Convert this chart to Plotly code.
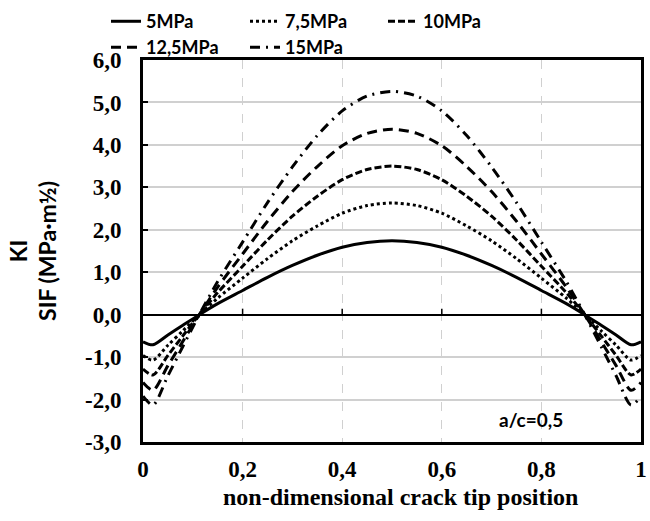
import plotly.graph_objects as go

# Non-dimensional crack tip position along the crack front
position = [0.0, 0.02, 0.05, 0.08, 0.113, 0.15, 0.2, 0.25, 0.3, 0.35, 0.4, 0.45, 0.5,
            0.55, 0.6, 0.65, 0.7, 0.75, 0.8, 0.85, 0.887, 0.92, 0.95, 0.98, 1.0]

# Mode I stress intensity factor KI (MPa·m½) for each applied pressure
k_5 = [-0.64, -0.71, -0.48, -0.25, 0.00, 0.26, 0.57, 0.88, 1.16, 1.40, 1.59, 1.70, 1.74,
       1.70, 1.59, 1.40, 1.16, 0.88, 0.57, 0.26, 0.00, -0.25, -0.48, -0.71, -0.64]
k_7_5 = [-0.96, -1.07, -0.72, -0.38, 0.00, 0.39, 0.86, 1.32, 1.74, 2.09, 2.39, 2.57, 2.63,
         2.57, 2.39, 2.09, 1.74, 1.32, 0.86, 0.39, 0.00, -0.38, -0.72, -1.07, -0.96]
k_10 = [-1.28, -1.42, -0.96, -0.50, 0.00, 0.52, 1.14, 1.76, 2.32, 2.79, 3.18, 3.42, 3.50,
        3.42, 3.18, 2.79, 2.32, 1.76, 1.14, 0.52, 0.00, -0.50, -0.96, -1.42, -1.28]
k_12_5 = [-1.60, -1.78, -1.20, -0.63, 0.00, 0.65, 1.43, 2.20, 2.90, 3.49, 3.98, 4.27, 4.37,
          4.27, 3.98, 3.49, 2.90, 2.20, 1.43, 0.65, 0.00, -0.63, -1.20, -1.78, -1.60]
k_15 = [-1.92, -2.13, -1.44, -0.75, 0.00, 0.78, 1.71, 2.64, 3.48, 4.22, 4.80, 5.15, 5.26,
        5.15, 4.80, 4.22, 3.48, 2.64, 1.71, 0.78, 0.00, -0.75, -1.44, -2.13, -1.92]

series_names = ["5MPa", "7,5MPa", "10MPa", "12,5MPa", "15MPa"]
series_values = [k_5, k_7_5, k_10, k_12_5, k_15]
series_dash = ["solid", "dot", "7px,3px", "10px,6px", "10px,6px,2px,6px"]
series_legend = ["legend", "legend2", "legend3", "legend4", "legend5"]

x_ticks = [0, 0.2, 0.4, 0.6, 0.8, 1]
x_tick_text = ["0", "0,2", "0,4", "0,6", "0,8", "1"]
y_ticks = [-3, -2, -1, 0, 1, 2, 3, 4, 5, 6]
y_tick_text = ["-3,0", "-2,0", "-1,0", "0,0", "1,0", "2,0", "3,0", "4,0", "5,0", "6,0"]

SANS = "Lato"
SERIF = "Liberation Serif"

fig = go.Figure()
for name, vals, dash, leg in zip(series_names, series_values, series_dash, series_legend):
    fig.add_trace(go.Scatter(
        x=position, y=vals, mode="lines", name=name, legend=leg,
        line=dict(color="black", width=3, dash=dash, shape="spline", smoothing=0.8),
    ))

# Small tick marks on the horizontal zero axis
shapes = []
for t in x_ticks[1:-1]:
    shapes.append(dict(type="line", xref="x", yref="y", ysizemode="pixel", yanchor=0,
                       x0=t, x1=t, y0=0, y1=6, line=dict(color="black", width=1.5)))

legend_font = dict(family=SANS, size=18, color="black", weight="bold")
def legend_box(x, y):
    return dict(x=x, y=y, xanchor="left", yanchor="top", orientation="h",
                bgcolor="rgba(0,0,0,0)", font=legend_font, itemwidth=30,
                tracegroupgap=0)

plot_l, plot_r = 143, 641
plot_t, plot_b = 60, 442.5
def px_x(px):
    return (px - plot_l) / (plot_r - plot_l)
def px_y(py):
    return (plot_b - py) / (plot_b - plot_t)

fig.update_layout(
    width=650, height=521,
    margin=dict(l=143, r=9, t=60, b=78.5, autoexpand=False),
    plot_bgcolor="white", paper_bgcolor="white",
    showlegend=True,
    legend=legend_box(px_x(106), px_y(3)),
    legend2=legend_box(px_x(245), px_y(3)),
    legend3=legend_box(px_x(383), px_y(3)),
    legend4=legend_box(px_x(106), px_y(29)),
    legend5=legend_box(px_x(245), px_y(29)),
    shapes=shapes,
    annotations=[
        dict(x=0.78, y=-2.47, xref="x", yref="y", text="a/c=0,5", showarrow=False,
             font=dict(family=SANS, size=19, color="black", weight="bold")),
        dict(x=px_x(400), y=px_y(498), xref="paper", yref="paper",
             xanchor="center", yanchor="middle",
             text="non-dimensional crack tip position", showarrow=False,
             font=dict(family=SERIF, size=24, color="black", weight="bold")),
    ],
    xaxis=dict(
        range=[0, 1], tickvals=x_ticks, ticktext=x_tick_text, ticks="",
        showline=True, linecolor="black", linewidth=3, mirror=True,
        showgrid=True, gridcolor="#d0d0d0", gridwidth=1, griddash="dash",
        zeroline=False, ticklabelstandoff=4,
        tickfont=dict(family=SERIF, size=23, color="black", weight="bold"),
    ),
    yaxis=dict(
        range=[-3, 6], tickvals=y_ticks, ticktext=y_tick_text,
        ticks="inside", ticklen=5, tickwidth=2, tickcolor="black",
        showline=True, linecolor="black", linewidth=3, mirror=True,
        showgrid=True, gridcolor="#d0d0d0", gridwidth=1.5,
        zeroline=True, zerolinecolor="black", zerolinewidth=1.5,
        ticklabelstandoff=14,
        tickfont=dict(family=SERIF, size=23, color="black", weight="bold"),
        title=dict(text="KI<br>SIF (MPa·m½)", standoff=22,
                   font=dict(family=SANS, size=23, color="black", weight="bold")),
    ),
)

fig.write_html("out.html")
